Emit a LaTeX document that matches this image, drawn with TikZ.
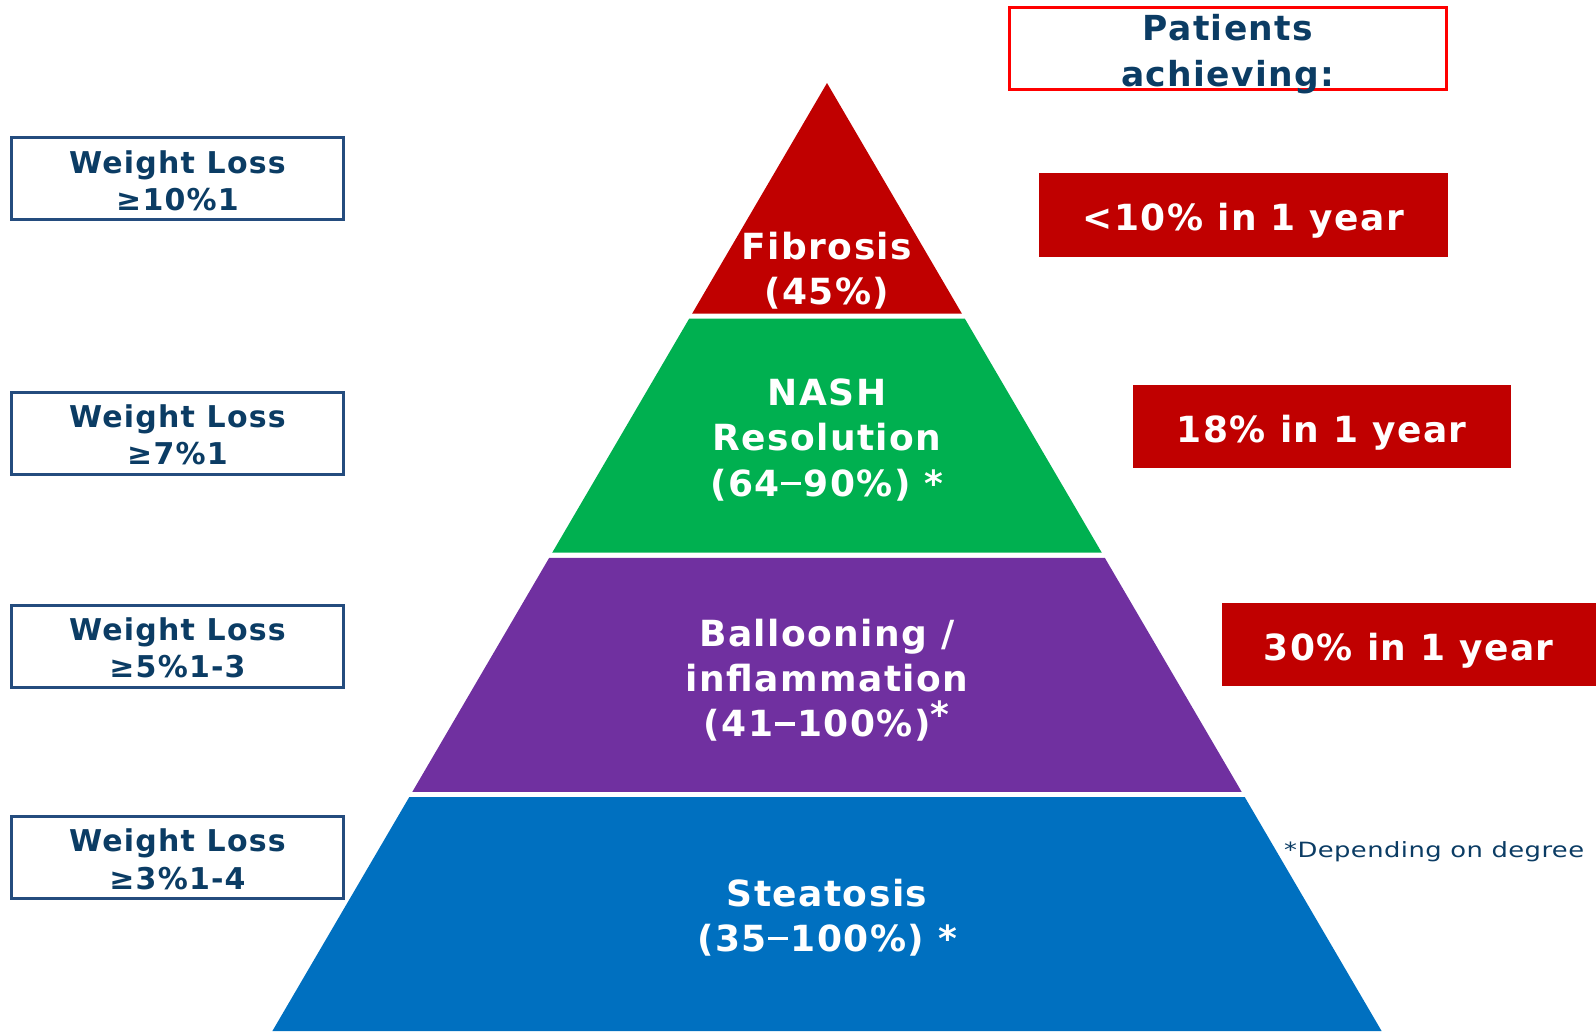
\documentclass[tikz,border=0pt]{standalone}
\usepackage{fontspec}
\setmainfont[LetterSpace=4]{DejaVu Sans}
\newfontfamily\notefont[FakeStretch=1.23,LetterSpace=2]{DejaVu Sans}
\newcommand{\wdash}{\kern1.5pt\rule[11pt]{20pt}{3.6pt}\kern2.5pt}
\definecolor{fibred}{HTML}{C00000}
\definecolor{nashgreen}{HTML}{00B050}
\definecolor{ballpurple}{HTML}{7030A0}
\definecolor{steablue}{HTML}{0070C0}
\definecolor{navytext}{HTML}{0B3C64}
\definecolor{navyline}{HTML}{244C7E}
\definecolor{pure red}{HTML}{FF0000}
\tikzset{
  layertext/.style={text=white, align=center, font=\bfseries\fontsize{36}{45.3}\selectfont},
  wlbox/.style={draw=navyline, line width=3pt, minimum width=332pt, minimum height=82pt, inner sep=0pt},
  wltext/.style={text=navytext, align=center, font=\bfseries\fontsize{30}{37.5}\selectfont, inner sep=0pt},
  ratebox/.style={fill=fibred, minimum height=83.5pt, inner sep=0pt, text=white,
    text height=32pt, text depth=0pt,
    font=\bfseries\fontsize{36}{44}\selectfont},
}
\begin{document}
\begin{tikzpicture}[x=1pt,y=-1pt]
\useasboundingbox (0,0) rectangle (1596,1031);
% pyramid layers (apex at 827,83; half width = 0.585*(y-83))
\fill[fibred] (827,83) -- (961.8,313.5) -- (692.2,313.5) -- cycle;
\fill[nashgreen] (689.2,318.6) -- (964.8,318.6) -- (1101.8,552.7) -- (552.2,552.7) -- cycle;
\fill[ballpurple] (549.2,557.8) -- (1104.8,557.8) -- (1241.7,791.9) -- (412.3,791.9) -- cycle;
\fill[steablue] (409.3,797) -- (1244.7,797) -- (1381.6,1031) -- (272.4,1031) -- cycle;
% layer texts
\node[layertext] (fib) at (827,270.5) {Fibrosis\\(45\%)};
\node[layertext] (nash) at (827,440) {NASH\\Resolution\\(64\wdash90\%) *};
\node[layertext] (ball) at (827,680) {Ballooning /\\inflammation\\(41\wdash100\%)$^{\textbf{*}}$};
\node[layertext] (stea) at (827,917.5) {Steatosis\\(35\wdash100\%) *};
% left boxes
\node[wlbox] (wl1) at (177.5,178.7) {};
\node[wltext] (wl1t) at ([yshift=-2pt]wl1.center) {Weight Loss\\≥10\%1};
\node[wlbox] (wl2) at (177.5,433) {};
\node[wltext] (wl2t) at ([yshift=-2pt]wl2.center) {Weight Loss\\≥7\%1};
\node[wlbox] (wl3) at (177.5,646) {};
\node[wltext] (wl3t) at ([yshift=-2pt]wl3.center) {Weight Loss\\≥5\%1-3};
\node[wlbox] (wl4) at (177.5,857.5) {};
\node[wltext] (wl4t) at ([yshift=-2pt]wl4.center) {Weight Loss\\≥3\%1-4};
% header
\node[draw=pure red, line width=3pt, minimum width=437pt, minimum height=82pt, inner sep=0pt] (hdrbox) at (1228,48) {};
\node[text=navytext, align=center, font=\bfseries\fontsize{34.5}{46}\selectfont] (hdr) at (1228,54.5) {Patients\\achieving:};
% rate boxes
\node[ratebox, minimum width=408.5pt] (r1) at (1243.3,214.8) {<10\% in 1 year};
\node[ratebox, minimum width=377.6pt] (r2) at (1321.8,426.5) {18\% in 1 year};
\node[ratebox, minimum width=374.5pt] (r3) at (1408.8,644.3) {30\% in 1 year};
% footnote
\node[text=navytext, font=\notefont\fontsize{21}{24}\selectfont, anchor=west, inner sep=0pt] (note) at (1284,852) {*Depending on degree};
\end{tikzpicture}
\end{document}
